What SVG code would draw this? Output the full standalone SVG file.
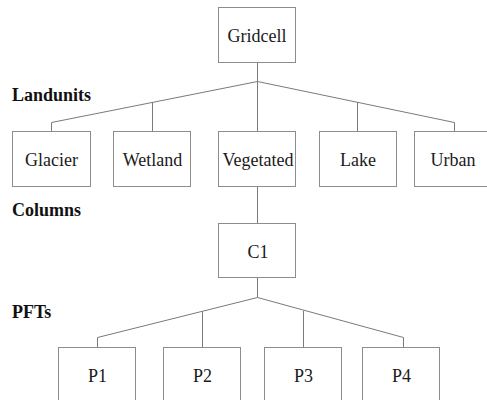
<svg xmlns="http://www.w3.org/2000/svg" width="487" height="400" viewBox="0 0 487 400">
  <style>
    .box { fill: #ffffff; stroke: #8c8c8c; stroke-width: 1; }
    .lbl { font-size: 18px; fill: #1a1a1a; text-anchor: middle; }
    .lvl { font-size: 18px; font-weight: bold; fill: #111111; }
    .wire { fill: none; stroke: #7a7a7a; stroke-width: 1; }
  </style>
  <rect width="487" height="400" fill="#ffffff"/>

  <g font-family="Liberation Serif, DejaVu Serif, serif">
  <!-- level headings -->
  <text class="lvl" x="12" y="101">Landunits</text>
  <text class="lvl" x="12" y="216">Columns</text>
  <text class="lvl" x="12" y="318">PFTs</text>

  <!-- connectors -->
  <g id="connectors" class="wire">
    <polyline points="257.5,62.5 257.5,81.5"/>
    <polyline points="51.5,131.5 51.5,122.5 257.5,81.5 454.5,122.5 454.5,131.5"/>
    <polyline points="152.5,131.5 152.5,102"/>
    <polyline points="257.5,81.5 257.5,131.5"/>
    <polyline points="357.5,131.5 357.5,102"/>
    <polyline points="257.5,186.5 257.5,223.5"/>
    <polyline points="257.5,277.5 257.5,297.5"/>
    <polyline points="97.5,347.5 97.5,337.5 257.5,297.5 403.5,337.5 403.5,347.5"/>
    <polyline points="202.5,347.5 202.5,311.5"/>
    <polyline points="303.5,347.5 303.5,311"/>
  </g>

  <g id="gridcell">
    <rect class="box" x="218.5" y="7.5" width="77" height="55"/>
    <text class="lbl" x="257" y="42">Gridcell</text>
  </g>

  <g id="glacier">
    <rect class="box" x="12.5" y="131.5" width="78" height="55"/>
    <text class="lbl" x="51.5" y="166">Glacier</text>
  </g>
  <g id="wetland">
    <rect class="box" x="113.5" y="131.5" width="77" height="55"/>
    <text class="lbl" x="152.5" y="166">Wetland</text>
  </g>
  <g id="vegetated">
    <rect class="box" x="218.5" y="131.5" width="77" height="55"/>
    <text class="lbl" x="258" y="166">Vegetated</text>
  </g>
  <g id="lake">
    <rect class="box" x="319.5" y="131.5" width="77" height="55"/>
    <text class="lbl" x="358" y="166">Lake</text>
  </g>
  <g id="urban">
    <rect class="box" x="414.5" y="131.5" width="78" height="55"/>
    <text class="lbl" x="453" y="166">Urban</text>
  </g>

  <g id="c1">
    <rect class="box" x="218.5" y="223.5" width="77" height="54"/>
    <text class="lbl" x="258" y="258">C1</text>
  </g>

  <g id="p1">
    <rect class="box" x="58.5" y="347.5" width="77" height="60"/>
    <text class="lbl" x="97.5" y="382">P1</text>
  </g>
  <g id="p2">
    <rect class="box" x="163.5" y="347.5" width="77" height="60"/>
    <text class="lbl" x="202.5" y="382">P2</text>
  </g>
  <g id="p3">
    <rect class="box" x="264.5" y="347.5" width="77" height="60"/>
    <text class="lbl" x="303.5" y="382">P3</text>
  </g>
  <g id="p4">
    <rect class="box" x="362.5" y="347.5" width="77" height="60"/>
    <text class="lbl" x="401.5" y="382">P4</text>
  </g>
  </g>
</svg>
